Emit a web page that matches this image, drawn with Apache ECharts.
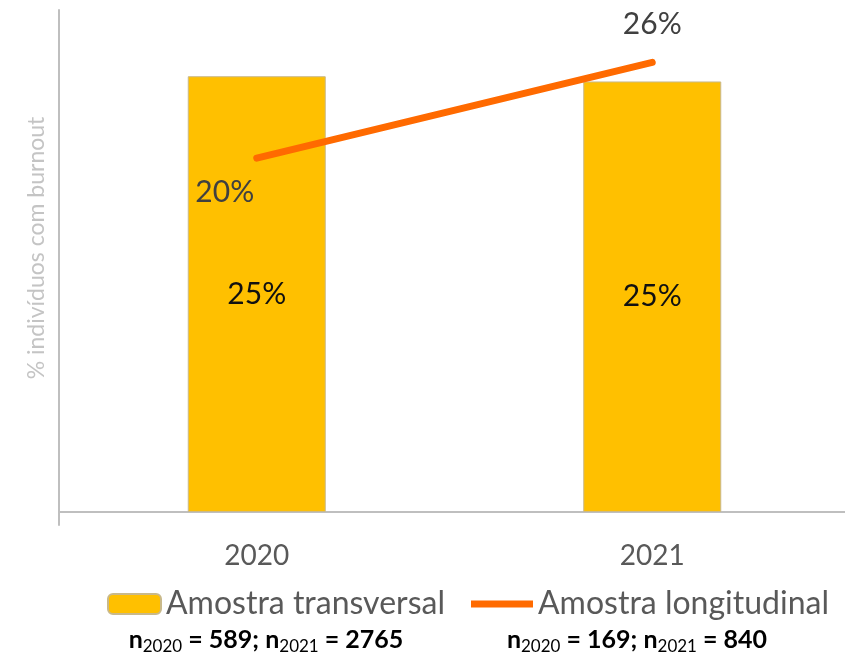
<!DOCTYPE html>
<html>
<head>
<meta charset="utf-8">
<script src="https://cdn.jsdelivr.net/npm/echarts@6/dist/echarts.min.js"></script>
<style>
  html, body { margin: 0; padding: 0; background: #fff; }
  #chart { width: 845px; height: 652px; }
</style>
</head>
<body>
<div id="chart"></div>
<script>
const years = ['2020', '2021'];
const transversal = [25.0, 24.7];
const longitudinal = [20.3, 25.8];
const nTransversal = [589, 2765];
const nLongitudinal = [169, 840];

const chart = echarts.init(document.getElementById('chart'));
const font = 'Lato, "Open Sans", sans-serif';

const pct = (v) => Math.round(v) + '%';

const nText = (n) =>
  '{n|n}{s|' + years[0] + '}{n| = ' + n[0] + '; n}{s|' + years[1] + '}{n| = ' + n[1] + '}';

const nRich = {
  n: { fontSize: 25, fontFamily: font, color: '#000', fontWeight: 'bold', lineHeight: 30, verticalAlign: 'middle' },
  s: { fontSize: 17, fontFamily: font, color: '#000', lineHeight: 30, verticalAlign: 'bottom', padding: [10, 0, 0, 0] }
};

const option = {
  animation: false,
  grid: { left: 59, right: -5, top: 10, bottom: 127, outerBoundsMode: 'none' },
  xAxis: {
    type: 'category',
    data: years,
    axisLine: { onZero: true, lineStyle: { color: '#bfbfbf', width: 2 } },
    axisTick: { show: false },
    axisLabel: { color: '#595959', fontSize: 28, fontFamily: font, margin: 17 }
  },
  yAxis: {
    type: 'value',
    min: -0.75,
    max: 28.8,
    axisLine: { show: true, lineStyle: { color: '#bfbfbf', width: 2 } },
    axisTick: { show: false },
    axisLabel: { show: false },
    splitLine: { show: false }
  },
  legend: [
    {
      data: ['Amostra transversal'],
      left: 102, top: 583,
      itemWidth: 53, itemHeight: 20, itemGap: 8,
      textStyle: { color: '#595959', fontSize: 32, fontFamily: font }
    },
    {
      data: [{ name: 'Amostra longitudinal', icon: 'path://M0,0 L62,0 L62,7 L0,7 Z' }],
      left: 466, top: 583,
      itemWidth: 62, itemHeight: 20, itemGap: 3,
      textStyle: { color: '#595959', fontSize: 32, fontFamily: font }
    }
  ],
  graphic: [
    {
      type: 'text', x: 37, y: 248, rotation: Math.PI / 2,
      style: {
        text: '% indivíduos com burnout',
        fill: '#c4c4c4', fontSize: 23, fontFamily: font,
        align: 'center', verticalAlign: 'middle'
      }
    },
    {
      type: 'text', x: 266, y: 640,
      style: { text: nText(nTransversal), rich: nRich, align: 'center', verticalAlign: 'middle' }
    },
    {
      type: 'text', x: 637, y: 640,
      style: { text: nText(nLongitudinal), rich: nRich, align: 'center', verticalAlign: 'middle' }
    }
  ],
  series: [
    {
      name: 'Amostra transversal',
      type: 'bar',
      data: transversal,
      barWidth: 138,
      itemStyle: { color: '#ffc000', borderColor: '#c9b98a', borderWidth: 1 },
      label: {
        show: true, position: 'inside',
        formatter: (p) => pct(p.value),
        color: '#111', fontSize: 30, fontFamily: font
      }
    },
    {
      name: 'Amostra longitudinal',
      type: 'line',
      data: longitudinal.map((v, i) => ({
        value: v,
        label: i === 0
          ? { position: 'bottom', distance: 18, offset: [-32, 0] }
          : { position: 'top', distance: 22 }
      })),
      symbol: 'circle',
      symbolSize: 2,
      z: 5,
      lineStyle: { color: '#ff6a00', width: 7, cap: 'round' },
      itemStyle: { color: '#ff6a00' },
      label: {
        show: true,
        formatter: (p) => pct(p.value),
        color: '#404040', fontSize: 30, fontFamily: font
      }
    }
  ]
};

chart.setOption(option);
window.addEventListener('resize', () => chart.resize());
</script>
</body>
</html>
